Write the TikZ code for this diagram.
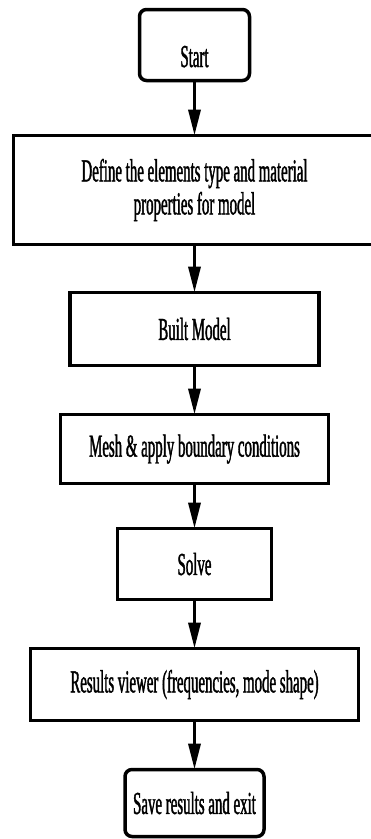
\documentclass[tikz,border=0pt]{standalone}
\usepackage{fontspec}
\setmainfont[FakeStretch=0.465, FakeBold=1.2]{Liberation Serif}
\usetikzlibrary{positioning, arrows.meta}

\begin{document}
\begin{tikzpicture}[
    x=1pt, y=-1pt,
    font=\fontsize{32}{33}\selectfont,
    >={Triangle[length=26pt, width=12pt]},
    block/.style={
        draw, line width=3.5pt, align=center, outer sep=0pt,
        inner sep=4pt, fill=white,
    },
    term/.style={block, rounded corners=7pt},
    arr/.style={->, line width=3.5pt},
]

\clip (0,0) rectangle (371,839);

% --- Start -------------------------------------------------
\node[term, minimum width=110pt, minimum height=71pt,
      text height=44pt, text depth=0pt] (start) at (194.5,45) {Start};

% --- Element type / material -------------------------------
\node[block, minimum width=362pt, minimum height=109pt, below=55pt of start] (define)
    {Define the elements type and material\\properties for model};

% --- Model -------------------------------------------------
\node[block, minimum width=249pt, minimum height=73pt, below=48pt of define] (model)
    {Built Model};

% --- Mesh + BCs --------------------------------------------
\node[block, minimum width=268pt, minimum height=69pt, below=49pt of model] (mesh)
    {Mesh \& apply boundary conditions};

% --- Solve -------------------------------------------------
\node[block, minimum width=154pt, minimum height=71pt, below=45pt of mesh] (solve)
    {Solve};

% --- Results -----------------------------------------------
\node[block, minimum width=328pt, minimum height=72pt, below=49pt of solve] (results)
    {Results viewer (frequencies, mode shape)};

% --- Exit --------------------------------------------------
\node[term, minimum width=139pt, minimum height=67pt, below=49pt of results] (save)
    {Save results and exit};

% --- Arrows ------------------------------------------------
\draw[arr] (start) -- (define);
\draw[arr] (define) -- (model);
\draw[arr] (model) -- (mesh);
\draw[arr] (mesh) -- (solve);
\draw[arr] (solve) -- (results);
\draw[arr] (results) -- (save);

\end{tikzpicture}
\end{document}
